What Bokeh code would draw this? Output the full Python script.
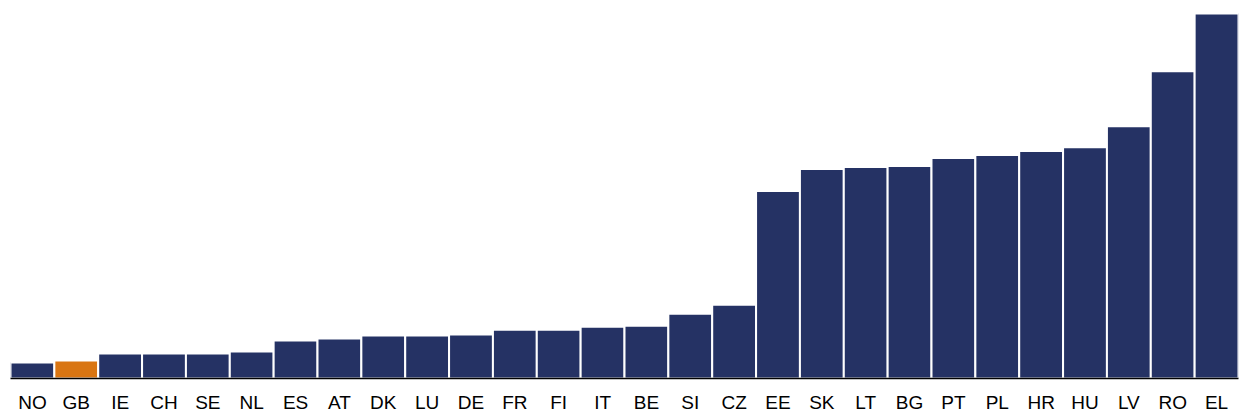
from bokeh.plotting import figure
from bokeh.models import ColumnDataSource, FixedTicker
from bokeh.embed import file_html
from bokeh.resources import INLINE

countries = ["NO", "GB", "IE", "CH", "SE", "NL", "ES", "AT", "DK", "LU", "DE", "FR", "FI", "IT",
             "BE", "SI", "CZ", "EE", "SK", "LT", "BG", "PT", "PL", "HR", "HU", "LV", "RO", "EL"]
values = [16, 18, 25, 25, 25, 27, 38, 40, 43, 43, 44, 49, 49, 52,
          53, 65, 74, 188, 210, 212, 213, 221, 224, 228, 232, 253, 308, 366]
highlight = "GB"

navy = "#253264"
orange = "#d97512"
colors = [orange if c == highlight else navy for c in countries]

src = ColumnDataSource(dict(x=list(range(len(countries))), top=values, color=colors))

p = figure(width=1240, height=415, x_range=(-0.5, len(countries) - 0.5), y_range=(0, 371),
           output_backend="svg", toolbar_location=None,
           min_border_left=10, min_border_right=2, min_border_top=8, min_border_bottom=0)
p.vbar(x="x", top="top", width=1.0, bottom=0, source=src, fill_color="color",
       line_color="white", line_width=2)

p.yaxis.visible = False
p.xgrid.visible = False
p.ygrid.visible = False
p.outline_line_color = None
p.xaxis.ticker = FixedTicker(ticks=list(range(len(countries))))
p.xaxis.major_label_overrides = {i: c for i, c in enumerate(countries)}
p.xaxis.major_tick_line_color = None
p.xaxis.minor_tick_line_color = None
p.xaxis.axis_line_color = "black"
p.xaxis.axis_line_width = 1.5
p.xaxis.major_label_text_font = "Liberation Sans"
p.xaxis.major_label_text_font_size = "19px"
p.xaxis.major_label_text_color = "black"
p.xaxis.major_label_standoff = 7

open("out.html", "w").write(file_html(p, INLINE))
